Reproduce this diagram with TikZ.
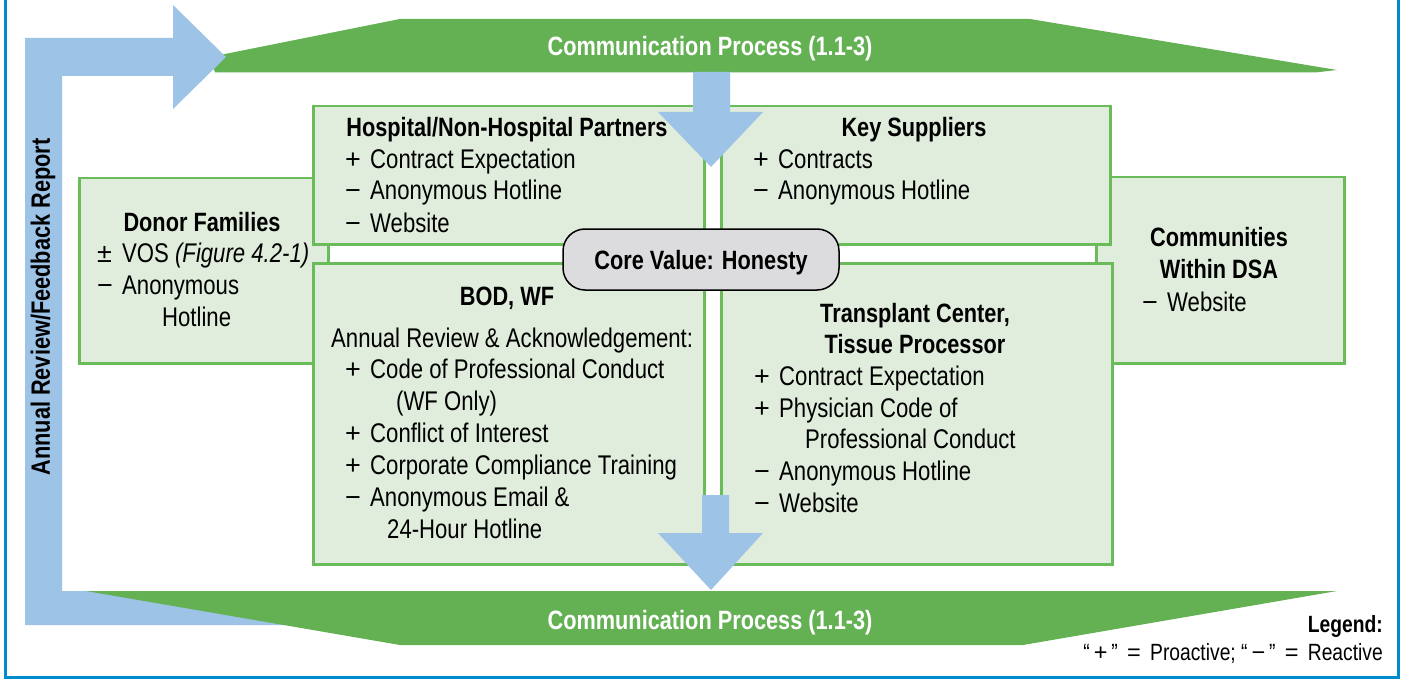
\documentclass[tikz,border=0pt]{standalone}
\usepackage{fontspec}
\setmainfont{Liberation Sans}[FakeStretch=0.82]
\newfontfamily\signfont{Liberation Sans}
\usetikzlibrary{positioning}

\definecolor{bandgreen}{RGB}{100,177,84}
\definecolor{boxgreen}{RGB}{224,237,220}
\definecolor{edgegreen}{RGB}{106,187,90}
\definecolor{arrowblue}{RGB}{157,195,230}
\definecolor{frameblue}{RGB}{0,140,204}
\definecolor{coregray}{RGB}{220,220,222}

\newcommand{\pitem}{\makebox[25pt][l]{\signfont +}}
\newcommand{\mitem}{\makebox[25pt][l]{\signfont −}}
\newcommand{\pmitem}{\makebox[25pt][l]{\signfont ±}}

\begin{document}
\begin{tikzpicture}[x=1pt, y=-1pt,
    every node/.style={inner sep=0pt, font=\fontsize{27}{32}\selectfont},
    box/.style={draw=edgegreen, fill=boxgreen, line width=2.5pt, anchor=north west},
    boxtitle/.style={anchor=base, font=\fontsize{26.5}{32}\selectfont\bfseries},
    entry/.style={anchor=base west},
    band/.style={fill=bandgreen},
    bandtitle/.style={anchor=base, text=white, font=\fontsize{26.5}{32}\selectfont\bfseries},
    core/.style={draw=black, fill=coregray, line width=1.5pt, rounded corners=22pt, minimum width=276pt, minimum height=61pt, text depth=0pt, font=\fontsize{26.5}{32}\selectfont\bfseries}]
  \useasboundingbox (0,0) rectangle (1404,679);

  \draw[frameblue, line width=3.5pt] (5.5,-2) -- (5.5,677.5) -- (1398.5,677.5) -- (1398.5,-2);

  \fill[band] (210,57) -- (400,19) -- (1030,19) -- (1337,70) -- (1315,72.5) -- (215,72.5) -- cycle;

  \fill[arrowblue] (25,625) -- (25,38) -- (173,38) -- (173,5) -- (226,57) -- (173,109) -- (173,76) -- (62,76) -- (62,591) -- (300,591) -- (300,625) -- cycle;

  \fill[band] (86,591) -- (1337,591) -- (1023,645) -- (400,645) -- cycle;

  \node[bandtitle] (toptitle) at (710,56) {Communication Process (1.1-3)};

  \node[bandtitle] (bottomtitle) at (710,629) {Communication Process (1.1-3)};

  \node[rotate=90, font=\fontsize{26.5}{32}\selectfont\bfseries] (review) at (43,307) {Annual Review/Feedback Report};

  \node[box, minimum width=249pt, minimum height=185pt] (donor) at (78,177) {};

  \node[box, minimum width=248pt, minimum height=186pt] (comm) at (1095,176) {};

  \node[box, minimum width=391pt, minimum height=138pt] (hosp) at (312,105) {};

  \node[box, minimum width=389pt, minimum height=138pt] (supp) at (720,105) {};

  \node[box, minimum width=391pt, minimum height=301pt] (bod) at (312,262) {};

  \node[box, minimum width=391pt, minimum height=301pt] (trans) at (720,262) {};

  \fill[arrowblue] (693,72) -- (730,72) -- (730,112) -- (763,112) -- (711,167) -- (658,112) -- (693,112) -- cycle;

  \fill[arrowblue] (702,495) -- (729,495) -- (729,533) -- (763,533) -- (711,590) -- (658,533) -- (702,533) -- cycle;

  \node[core] (core) at (701,259.5) {Core Value: Honesty};

  \node[boxtitle] (hosptitle) at (507,137) {Hospital/Non-Hospital Partners};
  \node[entry] (hosp1) at (345,169) {\pitem Contract Expectation};
  \node[entry] (hosp2) at (345,200) {\mitem Anonymous Hotline};
  \node[entry] (hosp3) at (345,232) {\mitem Website};

  \node[boxtitle] (supptitle) at (914,137) {Key Suppliers};
  \node[entry] (supp1) at (753,169) {\pitem Contracts};
  \node[entry] (supp2) at (753,200) {\mitem Anonymous Hotline};

  \node[boxtitle] (donortitle) at (202,231) {Donor Families};
  \node[entry] (donor1) at (97,262) {\pmitem VOS \textit{(Figure 4.2-1)}};
  \node[entry] (donor2) at (97,294) {\mitem Anonymous};
  \node[entry] (donor3) at (162,326) {Hotline};

  \node[boxtitle] (commtitle) at (1219,246) {Communities};
  \node[boxtitle] (commtitleb) at (1219,278) {Within DSA};
  \node[entry] (comm1) at (1142,311) {\mitem Website};

  \node[boxtitle] (bodtitle) at (507,305) {BOD, WF};
  \node[entry] (bodsub) at (331,347) {Annual Review \& Acknowledgement:};
  \node[entry] (bod1) at (345,378) {\pitem Code of Professional Conduct};
  \node[entry] (bod1b) at (396,410) {(WF Only)};
  \node[entry] (bod2) at (345,442) {\pitem Conflict of Interest};
  \node[entry] (bod3) at (345,474) {\pitem Corporate Compliance Training};
  \node[entry] (bod4) at (345,506) {\mitem Anonymous Email \&};
  \node[entry] (bod4b) at (387,538) {24-Hour Hotline};

  \node[boxtitle] (transtitle) at (915,322) {Transplant Center,};
  \node[boxtitle] (transtitleb) at (915,353) {Tissue Processor};
  \node[entry] (trans1) at (754,385) {\pitem Contract Expectation};
  \node[entry] (trans2) at (754,417) {\pitem Physician Code of};
  \node[entry] (trans2b) at (805,448) {Professional Conduct};
  \node[entry] (trans3) at (754,480) {\mitem Anonymous Hotline};
  \node[entry] (trans4) at (754,512) {\mitem Website};

  \node[anchor=base east, font=\fontsize{23.5}{28}\selectfont\bfseries] (legendtitle) at (1383,632) {Legend:};
  \node[anchor=base east, font=\fontsize{23.5}{28}\selectfont] (legendtext) at (1383,660) {“\,{\signfont +}\,” \,{\signfont =}\, Proactive; “\,{\signfont −}\,” \,{\signfont =}\, Reactive};
\end{tikzpicture}
\end{document}
